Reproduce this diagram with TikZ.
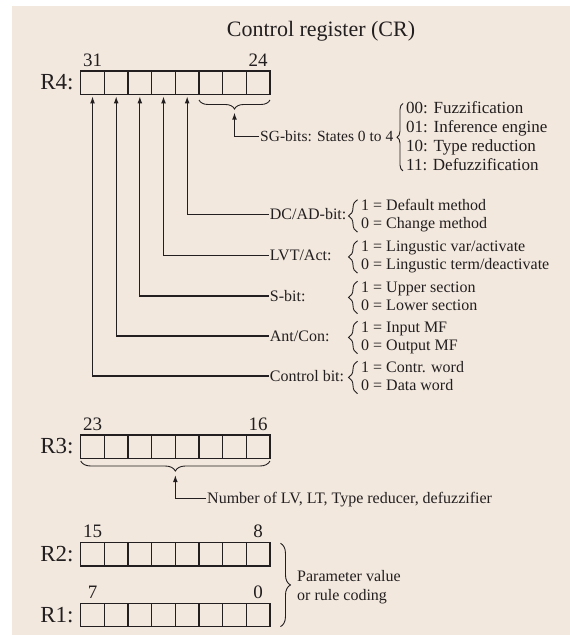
\documentclass[tikz,border=0pt]{standalone}
\usepackage{fontspec}
\setmainfont{Liberation Serif}
\usetikzlibrary{arrows.meta,decorations.pathreplacing,calc}
\definecolor{bg}{RGB}{242,232,222}
\definecolor{ink}{RGB}{35,31,32}
\begin{document}
\begin{tikzpicture}[x=1pt,y=1pt,
  cell/.style={draw=ink, line width=1.2pt, minimum width=23.66pt, minimum height=23.3pt, inner sep=0pt, outer sep=0pt, anchor=north west},
  reglbl/.style={font=\fontsize{23}{26}\selectfont, anchor=base east, inner sep=0pt, text=ink},
  bitnum/.style={font=\fontsize{19}{22}\selectfont, anchor=base, inner sep=0pt, text=ink},
  lbl/.style={font=\fontsize{16}{18}\selectfont, anchor=west, inner sep=1pt, text height=11.5pt, text depth=1.5pt, text=ink},
  items/.style={font=\fontsize{16}{18}\selectfont, anchor=west, inner sep=0pt, text=ink},
  arr/.style={draw=ink, line width=1.2pt, -{Latex[length=7pt,width=4.8pt]}, shorten >=2pt},
  brc/.style={draw=ink, line width=0.9pt, decorate, decoration={brace, amplitude=#1}},
]
\useasboundingbox (0,0) rectangle (570,-635);
\fill[bg] (12,-6) rectangle (570,-635);

\node[font=\fontsize{22}{26}\selectfont, anchor=base, text=ink, inner sep=0pt] (title) at (321,-36.7) {Control register (CR)};

% registers
\foreach \r/\top in {4/71, 3/435, 2/542.7, 1/603.3} {
  \foreach \i in {1,...,8} {
    \node[cell] (r\r-\i) at ({80.7+(\i-1)*23.66}, -\top) {};
  }
}

% register labels
\node[reglbl] (R4) at ($(r4-1.south west)+(-7,4.5)$) {R4:};
\node[reglbl] (R3) at ($(r3-1.south west)+(-7,4.5)$) {R3:};
\node[reglbl] (R2) at ($(r2-1.south west)+(-7,4.5)$) {R2:};
\node[reglbl] (R1) at ($(r1-1.south west)+(-7,4.5)$) {R1:};

% bit numbers
\node[bitnum] (n31) at ($(r4-1.north)+(0,5)$) {31};
\node[bitnum] (n24) at ($(r4-8.north)+(0,5)$) {24};
\node[bitnum] (n23) at ($(r3-1.north)+(0,5)$) {23};
\node[bitnum] (n16) at ($(r3-8.north)+(0,5)$) {16};
\node[bitnum] (n15) at ($(r2-1.north)+(0,5)$) {15};
\node[bitnum] (n8)  at ($(r2-8.north)+(0,5)$) {8};
\node[bitnum] (n7)  at ($(r1-1.north)+(0,5)$) {7};
\node[bitnum] (n0)  at ($(r1-8.north)+(0,5)$) {0};

% SG bits brace and arrow
\draw[brc=9] ($(r4-8.south east)+(0,-5.7)$) -- ($(r4-6.south west)+(0,-5.7)$);
\coordinate (sgtip) at ($(r4-7.south)+(0,-16.2)$);
\node[lbl, font=\fontsize{15.5}{18}\selectfont] (sg) at (259,-136.7) {SG-bits: States 0 to 4};
\draw[arr] (sg.west) -| (sgtip);
\node[items, font=\fontsize{17}{19}\selectfont] (sgv) at (406,-137.7) {\begin{tabular}{@{}l@{}}00: Fuzzification\\01: Inference engine\\10: Type reduction\\11: Defuzzification\end{tabular}};
\draw[brc=6] ($(sgv.south west)+(-3,5)$) -- ($(sgv.north west)+(-3,-4)$);

% bit field labels
\node[lbl] (dc)  at (268.7,-214.5) {DC/AD-bit:};
\node[lbl] (lvt) at (268.7,-255.5) {LVT/Act:};
\node[lbl] (sb)  at (268.7,-296) {S-bit:};
\node[lbl] (ac)  at (268.7,-336) {Ant/Con:};
\node[lbl] (cb)  at (268.7,-376) {Control bit:};
\draw[arr] (dc.west)  -| (r4-5.south);
\draw[arr] (lvt.west) -| (r4-4.south);
\draw[arr] (sb.west)  -| (r4-3.south);
\draw[arr] (ac.west)  -| (r4-2.south);
\draw[arr] (cb.west)  -| (r4-1.south);

\node[items] (dcv)  at (361,-215.9) {\begin{tabular}{@{}l@{}}1 = Default method\\0 = Change method\end{tabular}};
\node[items] (lvtv) at (361,-256.9) {\begin{tabular}{@{}l@{}}1 = Lingustic var/activate\\0 = Lingustic term/deactivate\end{tabular}};
\node[items] (sbv)  at (361,-297.4) {\begin{tabular}{@{}l@{}}1 = Upper section\\0 = Lower section\end{tabular}};
\node[items] (acv)  at (361,-337.4) {\begin{tabular}{@{}l@{}}1 = Input MF\\0 = Output MF\end{tabular}};
\node[items] (cbv)  at (361,-377.4) {\begin{tabular}{@{}l@{}}1 = Contr. word\\0 = Data word\end{tabular}};
\foreach \n in {dcv,lvtv,sbv,acv,cbv} {
  \draw[brc=9] ($(\n.south west)+(-3.5,2)$) -- ($(\n.north west)+(-3.5,-2)$);
}

% R3 brace and arrow
\draw[brc=10] ($(r3-8.south east)+(0,-2.7)$) -- ($(r3-1.south west)+(0,-2.7)$);
\coordinate (r3tip) at ($(r3-4.south east)+(0,-14.7)$);
\node[lbl] (num) at (206,-498.3) {Number of LV, LT, Type reducer, defuzzifier};
\draw[arr] (num.west) -| (r3tip);

% R2/R1 brace
\draw[brc=10] ($(r2-8.north east)+(10.5,-0.6)$) -- ($(r1-8.south east)+(10.5,0)$);
\node[items, font=\fontsize{16}{19}\selectfont] (pv) at (297,-587.4) {\begin{tabular}{@{}l@{}}Parameter value\\or rule coding\end{tabular}};
\end{tikzpicture}
\end{document}
